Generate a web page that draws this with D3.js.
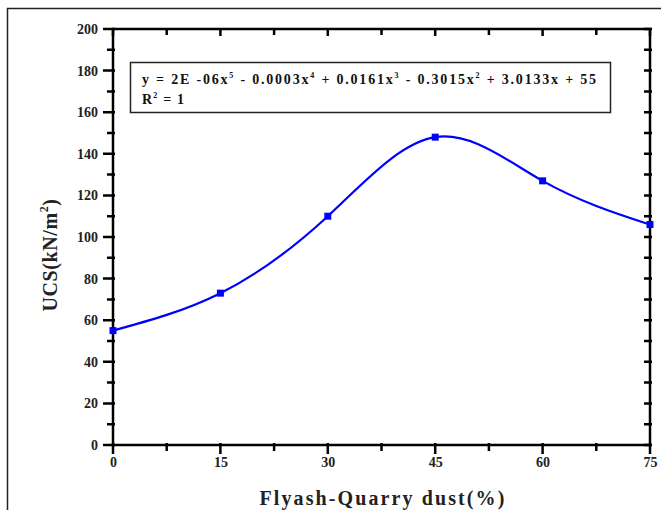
<!DOCTYPE html>
<html><head><meta charset="utf-8">
<script src="https://cdn.jsdelivr.net/npm/d3@7"></script>
<style>
html,body{margin:0;padding:0;background:#fff;}
text{font-family:"Liberation Serif","Times New Roman",serif;}
</style></head>
<body>
<svg id="chart" width="661" height="510"></svg>
<script>
const xValues = [0, 15, 30, 45, 60, 75];
const ucsValues = [55, 73, 110, 148, 127, 106];
const xTicks = [0, 15, 30, 45, 60, 75];
const yTicks = [0, 20, 40, 60, 80, 100, 120, 140, 160, 180, 200];
const xLabel = "Flyash-Quarry dust(%)";
const eqLine1 = [["y = 2E -06x",""],["5","sup"],[" - 0.0003x",""],["4","sup"],[" + 0.0161x",""],["3","sup"],[" - 0.3015x",""],["2","sup"],[" + 3.0133x + 55",""]];
const eqLine2 = [["R",""],["2","sup"],[" = 1",""]];

const svg = d3.select("#chart");
const L = 113, R = 650, T = 29, B = 445;
const xs = d3.scaleLinear().domain([0, 75]).range([L, R]);
const ys = d3.scaleLinear().domain([0, 200]).range([B, T]);

// outer frame
svg.append("path").attr("d", "M7.5,510 V8.5 H661").attr("fill","none").attr("stroke","#222").attr("stroke-width",1.5);

const minorX = d3.range(0, 76, 7.5);
const minorY = d3.range(0, 201, 10);
const isMajX = v => xTicks.includes(v);
const isMajY = v => yTicks.includes(v);

// tick marks as paths
let tp = "";
minorX.forEach(v => { const px = xs(v); tp += `M${px},${B-2}V${B + (isMajX(v) ? 9 : 6)}`; });
minorX.forEach(v => { const px = xs(v); tp += `M${px},${T}V${T + (isMajX(v) ? 7 : 6)}`; });
minorY.forEach(v => { const py = ys(v); tp += `M${L - (isMajY(v) ? 10 : 6)},${py}H${L+2}`; });
minorY.forEach(v => { const py = ys(v); tp += `M${R - 6},${py}H${R+2}`; });
svg.append("path").attr("d", tp).attr("fill","none").attr("stroke","#000").attr("stroke-width",2.5);

// tick labels via axes (no lines)
const axB = svg.append("g").attr("transform",`translate(0,${B})`)
  .call(d3.axisBottom(xs).tickValues(xTicks).tickSize(0).tickPadding(12).tickFormat(d3.format("d")));
axB.select(".domain").remove();
axB.selectAll(".tick text").attr("font-size",14).attr("font-weight","bold").attr("fill","#222").attr("font-family","Liberation Serif");
const axL = svg.append("g").attr("transform",`translate(${L},0)`)
  .call(d3.axisLeft(ys).tickValues(yTicks).tickSize(0).tickPadding(15).tickFormat(d3.format("d")));
axL.select(".domain").remove();
axL.selectAll(".tick text").attr("font-size",14).attr("font-weight","bold").attr("fill","#222").attr("font-family","Liberation Serif");

// plot frame
svg.append("rect").attr("x",L).attr("y",T).attr("width",R-L).attr("height",B-T)
  .attr("fill","none").attr("stroke","#000").attr("stroke-width",2.5);

// curve
const pts = xValues.map((v,i)=>[v, ucsValues[i]]);
svg.append("path").datum(pts)
  .attr("d", d3.line().x(d=>xs(d[0])).y(d=>ys(d[1])).curve(d3.curveNatural))
  .attr("fill","none").attr("stroke","#0000ff").attr("stroke-width",2.2);
svg.append("g").selectAll("rect").data(pts).join("rect")
  .attr("x",d=>xs(d[0])-3.5).attr("y",d=>ys(d[1])-3.5).attr("width",7).attr("height",7).attr("fill","#0000ff");

// equation box
svg.append("rect").attr("x",130.5).attr("y",62.5).attr("width",480).attr("height",50)
  .attr("fill","#fff").attr("stroke","#222").attr("stroke-width",1.5);
function richText(parts, tx, ty, len){
  const t = svg.append("text").attr("x",tx).attr("y",ty).attr("font-size",14).attr("font-weight","bold").attr("fill","#111");
  let prevSup = false;
  parts.forEach(([s,k])=>{
    const ts = t.append("tspan").text(s);
    const isSup = k==="sup";
    if(isSup) ts.attr("font-size",8).attr("dy",-6);
    else if(prevSup) ts.attr("dy",6);
    prevSup = isSup;
  });
  if(len){
    const w = t.node().getComputedTextLength();
    const n = parts.reduce((a,p)=>a+p[0].length,0);
    t.attr("letter-spacing", ((len - w) / n).toFixed(2));
  }
  return t;
}
richText(eqLine1, 142, 84, 456);
const r2 = richText(eqLine2, 142, 104, 0);
r2.attr("letter-spacing", 1.2);

// axis titles
svg.append("text").attr("x",383).attr("y",505).attr("text-anchor","middle")
  .attr("font-size",20).attr("font-weight","bold").attr("letter-spacing",2.1).attr("fill","#222").text(xLabel);
const yl = svg.append("text").attr("transform","translate(57,255) rotate(-90)").attr("text-anchor","middle")
  .attr("font-size",20).attr("font-weight","bold").attr("letter-spacing",0.6).attr("fill","#222");
yl.append("tspan").text("UCS(kN/m");
yl.append("tspan").text("2").attr("font-size",12).attr("dy",-9);
yl.append("tspan").text(")").attr("dy",9);
</script>
</body></html>
